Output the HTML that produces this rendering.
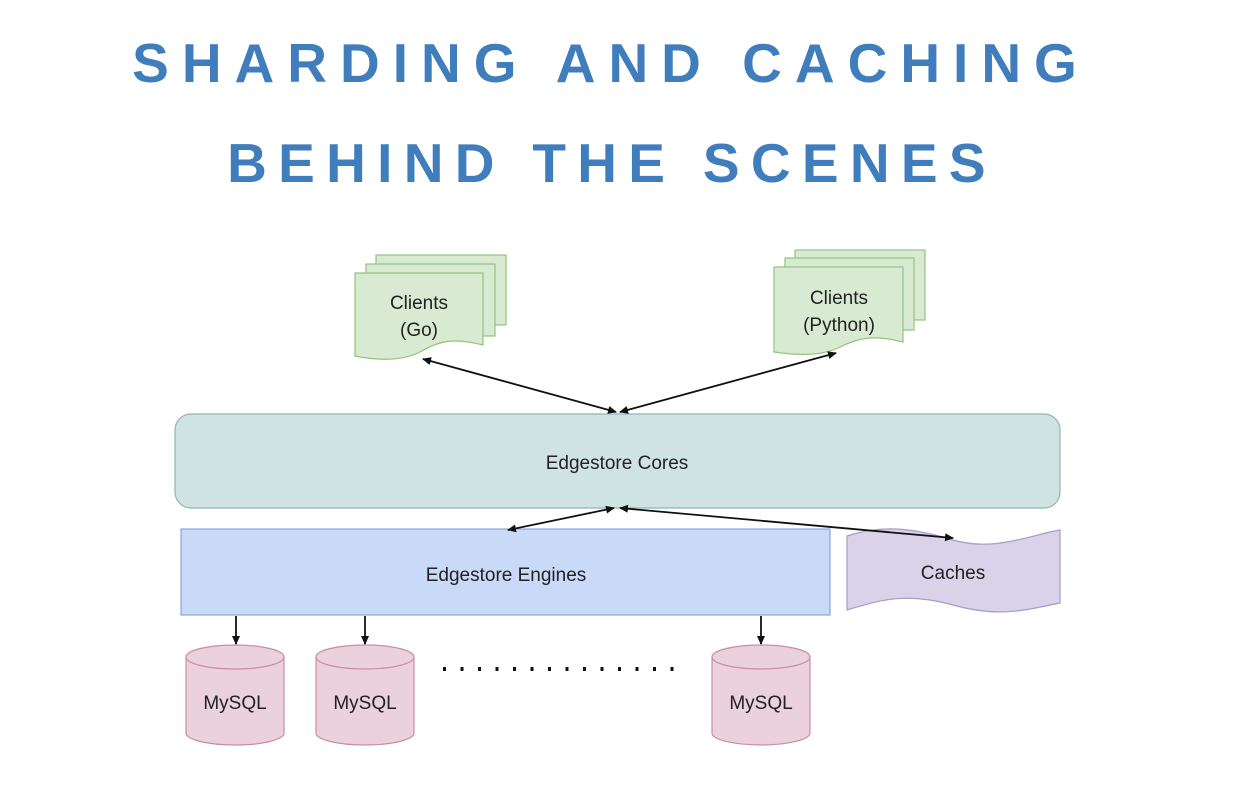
<!DOCTYPE html>
<html><head><meta charset="utf-8"><style>
body{margin:0;background:#fff;width:1250px;height:800px;overflow:hidden}
svg{display:block}
text{font-family:"Liberation Sans",sans-serif}
</style></head><body>
<svg width="1250" height="800" viewBox="0 0 1250 800">
<defs>
<marker id="a" markerWidth="10" markerHeight="10" refX="8" refY="5" orient="auto-start-reverse" markerUnits="userSpaceOnUse">
<path d="M0,1 L9,5 L0,9 Z" fill="#111"/></marker>
</defs>
<text x="611" y="82" text-anchor="middle" font-size="55" font-weight="bold" fill="#3f7dbc" letter-spacing="13">SHARDING AND CACHING</text>
<text x="612" y="182" text-anchor="middle" font-size="55" font-weight="bold" fill="#3f7dbc" letter-spacing="11.3">BEHIND THE SCENES</text>

<g fill="#d9ead3" stroke="#93c47d" stroke-width="1.2">
<rect x="376" y="255" width="130" height="70"/>
<rect x="366" y="264" width="129" height="72"/>
<path d="M355,273 H483 V345 C455,338 440,340 420,352 C400,362 375,360 355,356 Z"/>
<rect x="795" y="250" width="130" height="70"/>
<rect x="785" y="258" width="129" height="72"/>
<path d="M774,267 H903 V342 C875,335 860,337 840,347 C820,357 795,355 774,352 Z"/>
</g>
<text x="419" y="309" text-anchor="middle" font-size="19" fill="#222">Clients</text>
<text x="419" y="336" text-anchor="middle" font-size="19" fill="#222">(Go)</text>
<text x="839" y="304" text-anchor="middle" font-size="19" fill="#222">Clients</text>
<text x="839" y="331" text-anchor="middle" font-size="19" fill="#222">(Python)</text>

<rect x="175" y="414" width="885" height="94" rx="16" fill="#d0e3e3" stroke="#8fb5b5" stroke-width="1.2"/>
<text x="617" y="469" text-anchor="middle" font-size="19" fill="#222">Edgestore Cores</text>

<rect x="181" y="529" width="649" height="86" fill="#c9daf8" stroke="#8ea6d4" stroke-width="1.2"/>
<text x="506" y="581" text-anchor="middle" font-size="19" fill="#222">Edgestore Engines</text>

<path d="M847,536 C880,525 910,527 953,540 C995,552 1030,535 1060,530 V603 C1025,610 1000,618 953,605 C905,592 880,600 847,610 Z" fill="#d9d2e9" stroke="#a99ac9" stroke-width="1.2"/>
<text x="953" y="579" text-anchor="middle" font-size="19" fill="#222">Caches</text>

<g fill="#ead1dc" stroke="#c98ea3" stroke-width="1.2">
<path d="M186,657 V733 A49,12 0 0 0 284,733 V657"/><ellipse cx="235" cy="657" rx="49" ry="12"/>
<path d="M316,657 V733 A49,12 0 0 0 414,733 V657"/><ellipse cx="365" cy="657" rx="49" ry="12"/>
<path d="M712,657 V733 A49,12 0 0 0 810,733 V657"/><ellipse cx="761" cy="657" rx="49" ry="12"/>
</g>
<text x="235" y="709" text-anchor="middle" font-size="19" fill="#222">MySQL</text>
<text x="365" y="709" text-anchor="middle" font-size="19" fill="#222">MySQL</text>
<text x="761" y="709" text-anchor="middle" font-size="19" fill="#222">MySQL</text>

<line x1="443" y1="669" x2="686" y2="669" stroke="#111" stroke-width="4" stroke-dasharray="3,14.5"/>

<g stroke="#111" stroke-width="1.8" fill="none">
<line x1="423" y1="359" x2="616" y2="412" marker-start="url(#a)" marker-end="url(#a)"/>
<line x1="836" y1="353" x2="620" y2="412" marker-start="url(#a)" marker-end="url(#a)"/>
<line x1="614" y1="508" x2="508" y2="530" marker-start="url(#a)" marker-end="url(#a)"/>
<line x1="620" y1="508" x2="953" y2="538" marker-start="url(#a)" marker-end="url(#a)"/>
<line x1="236" y1="616" x2="236" y2="644" marker-end="url(#a)"/>
<line x1="365" y1="616" x2="365" y2="644" marker-end="url(#a)"/>
<line x1="761" y1="616" x2="761" y2="644" marker-end="url(#a)"/>
</g>
</svg>
</body></html>
